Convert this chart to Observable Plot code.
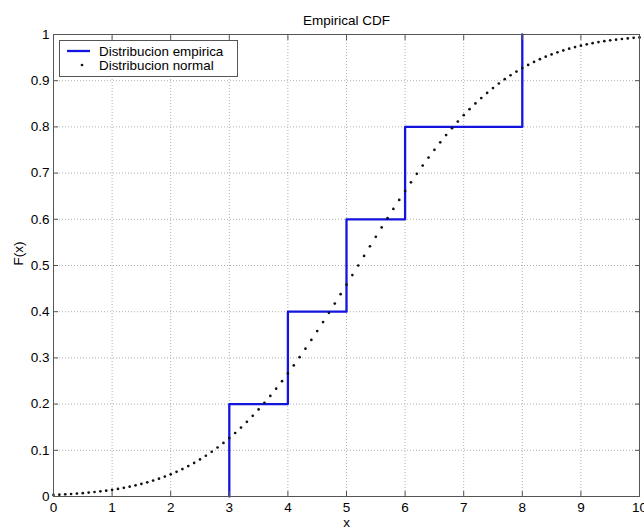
<!DOCTYPE html>
<html>
<head>
<meta charset="utf-8">
<script src="https://cdn.jsdelivr.net/npm/d3@7"></script>
<script src="https://cdn.jsdelivr.net/npm/@observablehq/plot@0.6"></script>
<style>
  html, body { margin: 0; padding: 0; background: #fff; }
  #wrap { position: relative; width: 644px; height: 529px; font-family: "Liberation Sans", Arial, sans-serif; }
  #legend { position: absolute; left: 59px; top: 40px; }
  #legend text { font-family: "Liberation Sans", Arial, sans-serif; font-size: 13.4px; fill: #000; }
</style>
</head>
<body>
<div id="wrap"></div>
<script>
// Empirical distribution: observed values and cumulative probabilities
const obsValues = [3, 4, 5, 6, 8];
const obsCdf = [0.2, 0.4, 0.6, 0.8, 1.0];

// Normal distribution points (x step 0.1)
const normX = [0,0.1,0.2,0.3,0.4,0.5,0.6,0.7,0.8,0.9,1,1.1,1.2,1.3,1.4,1.5,1.6,1.7,1.8,1.9,2,2.1,2.2,2.3,2.4,2.5,2.6,2.7,2.8,2.9,3,3.1,3.2,3.3,3.4,3.5,3.6,3.7,3.8,3.9,4,4.1,4.2,4.3,4.4,4.5,4.6,4.7,4.8,4.9,5,5.1,5.2,5.3,5.4,5.5,5.6,5.7,5.8,5.9,6,6.1,6.2,6.3,6.4,6.5,6.6,6.7,6.8,6.9,7,7.1,7.2,7.3,7.4,7.5,7.6,7.7,7.8,7.9,8,8.1,8.2,8.3,8.4,8.5,8.6,8.7,8.8,8.9,9,9.1,9.2,9.3,9.4,9.5,9.6,9.7,9.8,9.9,10];
const normF = [0.0034,0.0040,0.0047,0.0054,0.0063,0.0073,0.0084,0.0097,0.0111,0.0127,0.0145,0.0165,0.0188,0.0213,0.0241,0.0272,0.0306,0.0344,0.0386,0.0431,0.0481,0.0535,0.0594,0.0658,0.0727,0.0802,0.0882,0.0969,0.1061,0.1159,0.1264,0.1375,0.1492,0.1616,0.1747,0.1884,0.2028,0.2178,0.2334,0.2496,0.2664,0.2837,0.3016,0.3199,0.3388,0.3580,0.3776,0.3975,0.4176,0.4380,0.4586,0.4793,0.5000,0.5207,0.5414,0.5620,0.5824,0.6025,0.6224,0.6420,0.6613,0.6801,0.6984,0.7163,0.7336,0.7504,0.7666,0.7822,0.7972,0.8116,0.8253,0.8384,0.8508,0.8625,0.8736,0.8841,0.8939,0.9032,0.9118,0.9198,0.9273,0.9342,0.9406,0.9465,0.9519,0.9569,0.9614,0.9656,0.9694,0.9728,0.9759,0.9787,0.9812,0.9835,0.9855,0.9873,0.9889,0.9903,0.9916,0.9927,0.9937];

// Ticks
const xTicks = [0,1,2,3,4,5,6,7,8,9,10];
const xTickLabels = ["0","1","2","3","4","5","6","7","8","9","10"];
const yTicks = [0,0.1,0.2,0.3,0.4,0.5,0.6,0.7,0.8,0.9,1];
const yTickLabels = ["0","0.1","0.2","0.3","0.4","0.5","0.6","0.7","0.8","0.9","1"];

// Build step path points
const stepPts = [];
let prev = 0;
obsValues.forEach((v, i) => {
  stepPts.push({x: v, y: prev});
  stepPts.push({x: v, y: obsCdf[i]});
  prev = obsCdf[i];
});
const normPts = normX.map((x, i) => ({x, y: normF[i]}));

const blue = "#1414e0";
const xFmt = d => xTickLabels[xTicks.indexOf(d)] ?? "";
const yFmt = d => { const i = yTicks.findIndex(t => Math.abs(t - d) < 1e-9); return i >= 0 ? yTickLabels[i] : ""; };

const chart = Plot.plot({
  width: 644,
  height: 529,
  marginTop: 34,
  marginRight: 5,
  marginBottom: 33,
  marginLeft: 53,
  style: {fontFamily: '"Liberation Sans", Arial, sans-serif', fontSize: "13.5px", color: "#000", background: "#fff"},
  x: {domain: [0, 10]},
  y: {domain: [0, 1]},
  marks: [
    Plot.gridX(xTicks, {stroke: "#b0b0b0", strokeOpacity: 1, strokeDasharray: "1,2"}),
    Plot.gridY(yTicks, {stroke: "#b0b0b0", strokeOpacity: 1, strokeDasharray: "1,2"}),
    Plot.line(stepPts, {x: "x", y: "y", stroke: blue, strokeWidth: 2.3}),
    Plot.dot(normPts, {x: "x", y: "y", r: 1.35, fill: "#111", stroke: "none"}),
    Plot.frame({stroke: "#555", strokeWidth: 1}),
    // labels
    Plot.axisX({anchor: "bottom", ticks: xTicks, tickSize: 0, tickPadding: 6, tickFormat: xFmt, label: null, fontSize: 13.5}),
    Plot.axisY({anchor: "left", ticks: yTicks, tickSize: 0, tickPadding: 4, tickFormat: yFmt, label: null, fontSize: 13.5}),
    // inward tick marks
    Plot.axisX({anchor: "bottom", ticks: xTicks, tickSize: -5, tickFormat: () => "", label: null, stroke: "#555"}),
    Plot.axisX({anchor: "top", ticks: xTicks, tickSize: -5, tickFormat: () => "", label: null, stroke: "#555"}),
    Plot.axisY({anchor: "left", ticks: yTicks, tickSize: -5, tickFormat: () => "", label: null, stroke: "#555"}),
    Plot.axisY({anchor: "right", ticks: yTicks, tickSize: -5, tickFormat: () => "", label: null, stroke: "#555"}),
    // title and axis labels
    Plot.text(["Empirical CDF"], {frameAnchor: "top", dy: -10, lineAnchor: "bottom", text: d => d, fontSize: 13.5, fill: "#000"}),
    Plot.text(["x"], {frameAnchor: "bottom", dy: 30, lineAnchor: "bottom", text: d => d, fontSize: 13.5, fill: "#000"}),
    Plot.text(["F(x)"], {frameAnchor: "left", dx: -35, rotate: -90, text: d => d, fontSize: 13.5, fill: "#000"})
  ]
});

const wrap = document.getElementById("wrap");
wrap.appendChild(chart);

// Legend overlay
const ns = "http://www.w3.org/2000/svg";
const leg = document.createElementNS(ns, "svg");
leg.setAttribute("id", "legend");
leg.setAttribute("width", "180");
leg.setAttribute("height", "37");
leg.innerHTML = `
  <rect x="0.5" y="0.5" width="178" height="36" fill="#fff" stroke="#555" stroke-width="1"/>
  <line x1="8" x2="31" y1="11" y2="11" stroke="${blue}" stroke-width="2.3"/>
  <circle cx="23" cy="25" r="1.35" fill="#111"/>
  <text x="40" y="15.5">Distribucion empirica</text>
  <text x="40" y="29.5">Distribucion normal</text>
`;
wrap.appendChild(leg);
</script>
</body>
</html>
